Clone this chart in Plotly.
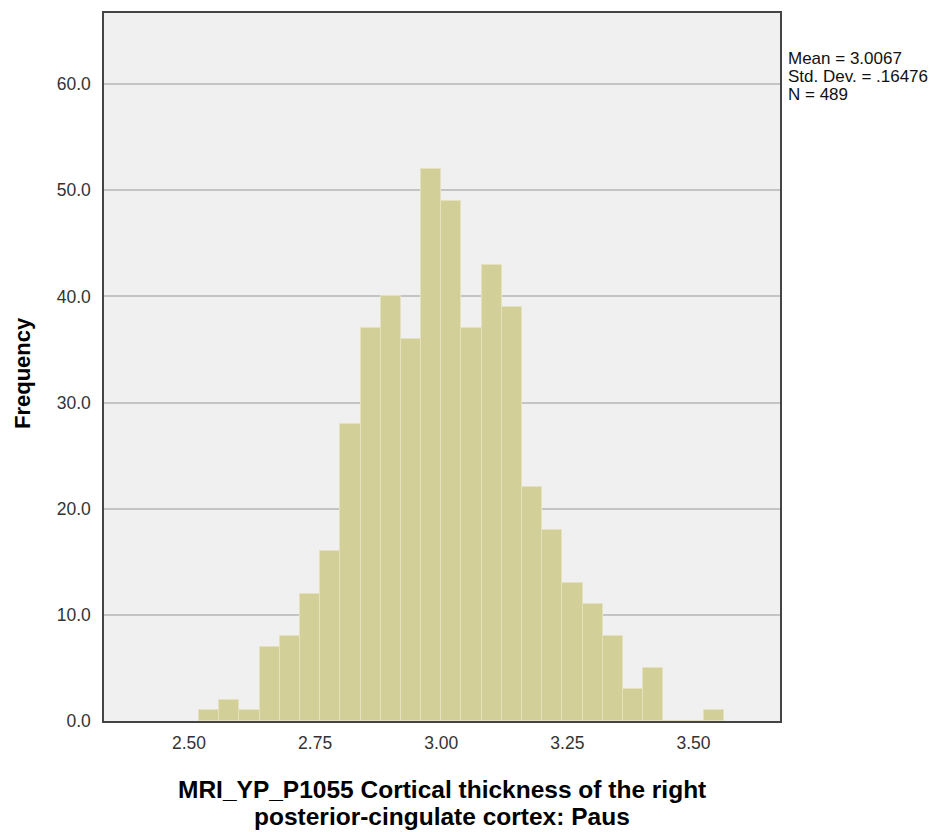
import plotly.graph_objects as go

# Histogram data (bin left edges, width 0.04) and frequencies
bin_left = [2.52, 2.56, 2.60, 2.64, 2.68, 2.72, 2.76, 2.80, 2.84, 2.88, 2.92, 2.96,
            3.00, 3.04, 3.08, 3.12, 3.16, 3.20, 3.24, 3.28, 3.32, 3.36, 3.40, 3.44,
            3.48, 3.52]
freq = [1, 2, 1, 7, 8, 12, 16, 28, 37, 40, 36, 52,
        49, 37, 43, 39, 22, 18, 13, 11, 8, 3, 5, 0,
        0, 1]
bin_width = 0.04

x_tickvals = [2.50, 2.75, 3.00, 3.25, 3.50]
x_ticktext = ["2.50", "2.75", "3.00", "3.25", "3.50"]
y_tickvals = [0, 10, 20, 30, 40, 50, 60]
y_ticktext = ["0.0", "10.0", "20.0", "30.0", "40.0", "50.0", "60.0"]

stats_lines = ["Mean = 3.0067", "Std. Dev. = .16476", "N = 489"]
x_title_lines = ["MRI_YP_P1055 Cortical thickness of the right",
                 "posterior-cingulate cortex: Paus"]
y_title = "Frequency"

FONT = "Liberation Sans, Arial, sans-serif"

# The page body has an 8px margin, so the figure is 8px smaller than the window
W, H = 937, 824
PL, PT = 96, 3          # plot area left/top inside figure
PR, PB = 772, 713       # plot area right/bottom inside figure

fig = go.Figure()
fig.add_trace(go.Bar(
    x=bin_left, y=freq, width=[bin_width] * len(freq), offset=0,
    marker=dict(color="#D3CF98", line=dict(color="#E4E1BC", width=1)),
    hoverinfo="x+y", showlegend=False,
))

fig.update_layout(
    width=W, height=H,
    margin=dict(l=PL, r=W - PR, t=PT, b=H - PB),
    paper_bgcolor="white", plot_bgcolor="#F0F0F0",
    bargap=0,
    font=dict(family=FONT, size=17, color="#333333"),
    xaxis=dict(
        range=[2.3315, 3.6715], tickvals=x_tickvals, ticktext=x_ticktext,
        showgrid=False, zeroline=False, ticks="", ticklabelstandoff=5,
        showline=True, linecolor="#444444", linewidth=1.5, mirror=True,
        tickfont=dict(size=17.5, color="#333333"),
    ),
    yaxis=dict(
        range=[0, 66.7], tickvals=y_tickvals, ticktext=y_ticktext,
        showgrid=True, gridcolor="#C4C4C4", gridwidth=1.5, zeroline=False,
        ticks="", ticklabelstandoff=8,
        showline=True, linecolor="#444444", linewidth=1.5, mirror=True,
        tickfont=dict(size=17.5, color="#333333"),
    ),
)

# stats box text (reference line centres ~56, 74, 92 px from top of window)
for i, line in enumerate(stats_lines):
    fig.add_annotation(
        text=line, xref="paper", yref="paper", x=1, y=1,
        xanchor="left", yanchor="middle", xshift=7, yshift=-(56 + 18 * i - 11),
        showarrow=False, borderpad=0,
        font=dict(family=FONT, size=17, color="#111111"), align="left",
    )

# x axis title (two lines)
for i, line in enumerate(x_title_lines):
    fig.add_annotation(
        text="<b>" + line + "</b>", xref="paper", yref="paper", x=0.5, y=0,
        xanchor="center", yanchor="middle", yshift=-(789.5 + 27 * i - 721),
        showarrow=False, borderpad=0,
        font=dict(family=FONT, size=24.5, color="#000000"),
    )

# y axis title
fig.add_annotation(
    text="<b>" + y_title + "</b>", xref="paper", yref="paper", x=0, y=0.5,
    xanchor="center", yanchor="middle", xshift=-(104 - 22), yshift=-6, textangle=-90,
    showarrow=False, font=dict(family=FONT, size=22, color="#000000"),
)

fig.write_html("out.html")
